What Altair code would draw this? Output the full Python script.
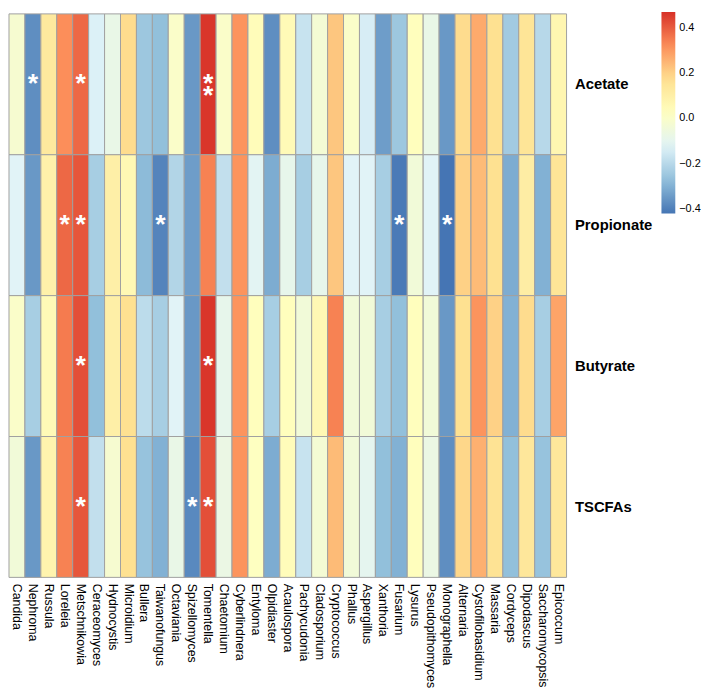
import altair as alt
import pandas as pd

genera = ["Candida", "Nephroma", "Russula", "Loreleia", "Metschnikowia", "Ceraceomyces",
          "Hydnocystis", "Microidium", "Bullera", "Taiwanofungus", "Octaviania",
          "Spizellomyces", "Tomentella", "Chaetomium", "Cyberlindnera", "Entyloma",
          "Olpidiaster", "Acaulospora", "Pachycudonia", "Cladosporium", "Cryptococcus",
          "Phallus", "Aspergillus", "Xanthoria", "Fusarium", "Lysurus", "Pseudopithomyces",
          "Monographella", "Alternaria", "Cystofilobasidium", "Massaria", "Cordyceps",
          "Dipodascus", "Saccharomycopsis", "Epicoccum"]

acids = ["Acetate", "Propionate", "Butyrate", "TSCFAs"]

acetate = [-0.02, -0.37, 0.13, 0.32, 0.38, -0.13, -0.08, 0.18, -0.25, -0.27, 0.0, -0.35,
           0.46, 0.0, 0.31, 0.04, -0.37, 0.05, -0.17, -0.03, 0.22, 0.0, -0.14, -0.34,
           -0.25, 0.03, -0.08, -0.35, 0.18, 0.27, 0.17, -0.24, 0.15, -0.20, 0.07]
propionate = [-0.12, -0.35, 0.09, 0.38, 0.41, -0.23, 0.10, 0.06, -0.28, -0.39, -0.21, -0.34,
              0.34, -0.18, 0.31, -0.11, -0.31, -0.09, -0.23, -0.09, 0.22, -0.12, -0.12, -0.23,
              -0.41, -0.04, -0.12, -0.42, 0.20, 0.24, 0.17, -0.31, 0.11, -0.30, 0.15]
butyrate = [0.0, -0.23, 0.05, 0.35, 0.42, -0.27, 0.10, 0.17, -0.19, -0.23, -0.12, -0.35,
            0.46, -0.09, 0.31, 0.03, -0.23, 0.03, -0.04, 0.06, 0.34, -0.04, -0.04, -0.23,
            -0.27, 0.03, -0.04, -0.35, 0.17, 0.31, 0.20, -0.30, 0.18, -0.23, 0.28]
tscfas = [-0.04, -0.35, 0.08, 0.34, 0.41, -0.18, -0.02, 0.17, -0.26, -0.30, -0.08, -0.38,
          0.42, -0.07, 0.31, 0.02, -0.31, 0.04, -0.17, -0.03, 0.24, -0.04, -0.10, -0.27,
          -0.30, 0.03, -0.07, -0.37, 0.19, 0.26, 0.16, -0.27, 0.14, -0.26, 0.14]

stars_acetate = {"Nephroma": "*", "Metschnikowia": "*", "Tomentella": "*\n*"}
stars_propionate = {"Loreleia": "*", "Metschnikowia": "*", "Taiwanofungus": "*",
                    "Fusarium": "*", "Monographella": "*"}
stars_butyrate = {"Metschnikowia": "*", "Tomentella": "*"}
stars_tscfas = {"Metschnikowia": "*", "Spizellomyces": "*", "Tomentella": "*"}

legend_values = [-0.4, -0.2, 0, 0.2, 0.4]
color_stops = [-0.42, -0.2717, -0.1233, 0.025, 0.1733, 0.3217, 0.47]
color_range = ["#4575B4", "#91BFDB", "#E0F3F8", "#FFFFBF", "#FEE090", "#FC8D59", "#D73027"]

rows = []
for acid, vals, stars in [("Acetate", acetate, stars_acetate),
                          ("Propionate", propionate, stars_propionate),
                          ("Butyrate", butyrate, stars_butyrate),
                          ("TSCFAs", tscfas, stars_tscfas)]:
    for g, v in zip(genera, vals):
        rows.append({"genus": g, "acid": acid, "value": v, "star": stars.get(g, "")})
df = pd.DataFrame(rows)

xenc = alt.X("genus:N", sort=genera, scale=alt.Scale(type="band", paddingInner=0, paddingOuter=0),
             axis=alt.Axis(title=None, labelAngle=90, labelAlign="left", labelBaseline="middle",
                           ticks=False, domain=False, labelPadding=6, labelFontSize=12.5,
                           labelColor="black", labelFont="Liberation Sans"))
yenc = alt.Y("acid:N", sort=acids, scale=alt.Scale(type="band", paddingInner=0, paddingOuter=0),
             axis=alt.Axis(title=None, orient="right", ticks=False, domain=False, labelPadding=8,
                           labelFontSize=15, labelFontWeight="bold", labelColor="black",
                           labelFont="Liberation Sans"))

heat = alt.Chart(df).mark_rect(stroke="#A0A0A0", strokeWidth=1).encode(
    x=xenc, y=yenc,
    color=alt.Color("value:Q",
                    scale=alt.Scale(domain=color_stops, range=color_range, interpolate="rgb"),
                    legend=alt.Legend(title=None, orient="none", legendX=660, legendY=-2,
                                      gradientLength=204, gradientThickness=14,
                                      gradientStrokeWidth=0, values=legend_values,
                                      labelFontSize=11, labelColor="black", labelOffset=4,
                                      labelFont="Liberation Sans", direction="vertical"))
)

stars = alt.Chart(df).transform_filter("datum.star != ''").mark_text(
    color="white", fontSize=27, fontWeight="bold", font="Liberation Sans",
    baseline="middle", align="center", dy=0, lineBreak="\n", lineHeight=12
).encode(x=xenc, y=yenc, text="star:N")

chart = (heat + stars).properties(width=564, height=570, padding=0).configure_view(stroke=None)

chart.save("out.html", embed_options={"renderer": "svg", "actions": False})
